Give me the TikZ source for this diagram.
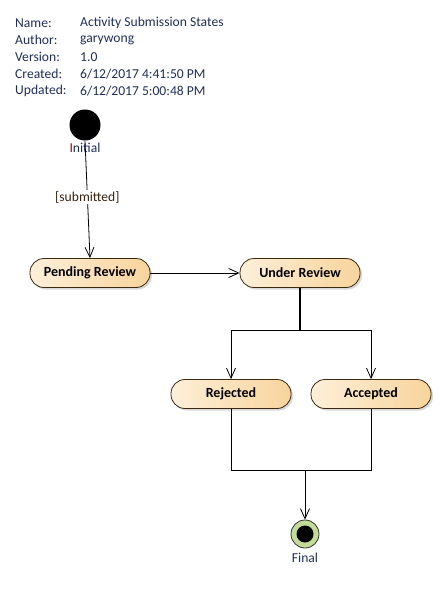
\documentclass[tikz,border=0pt]{standalone}
\usepackage{fontspec}
\setmainfont{Carlito}
\usetikzlibrary{arrows.meta,shadows}
\definecolor{hdr}{HTML}{1F2F5A}
\definecolor{lbltxt}{HTML}{3A2410}
\definecolor{stL}{HTML}{FDEFD9}
\definecolor{stR}{HTML}{F8D49C}
\definecolor{stB}{HTML}{3A2A10}
\definecolor{finG}{HTML}{C3DC98}
\begin{document}
\begin{tikzpicture}[x=1pt,y=-1pt,
  hdrtxt/.style={anchor=west,inner sep=0pt,text=hdr,font=\fontsize{13.6}{15}\selectfont},
  state/.style={draw=stB,line width=0.8pt,rounded corners=14pt,minimum width=120pt,minimum height=29pt,
    left color=stL,right color=stR,font=\fontsize{14}{16}\selectfont\bfseries,text=black,
    drop shadow={shadow xshift=2pt,shadow yshift=-2pt,fill=black!25,opacity=0.6}},
  conn/.style={draw=black,line width=0.8pt},
  tip/.style={-{Straight Barb[length=10pt,width=9pt,line width=0.8pt]}},
  lbl/.style={font=\fontsize{13.6}{15}\selectfont,inner sep=1pt}
]
\useasboundingbox (0,0) rectangle (441,604);
% header
\node[hdrtxt] (h1) at (15,23) {Name:};
\node[hdrtxt] (h2) at (15,40) {Author:};
\node[hdrtxt] (h3) at (15,57) {Version:};
\node[hdrtxt] (h4) at (15,74) {Created:};
\node[hdrtxt] (h5) at (15,91) {Updated:};
\node[hdrtxt] (v1) at (80,23) {Activity Submission States};
\node[hdrtxt] (v2) at (80,40) {garywong};
\node[hdrtxt] (v3) at (80,57) {1.0};
\node[hdrtxt] (v4) at (80,74) {6/12/2017 4:41:50 PM};
\node[hdrtxt] (v5) at (80,91) {6/12/2017 5:00:48 PM};
% initial
\node[circle,fill=black,minimum size=31pt,inner sep=0pt] (init) at (85,125) {};
\node[lbl,text=hdr] (initl) at (85,148) {{\color{red!70!black}I}nitial};
% states
\node[state] (pend) at (90,273) {Pending Review};
\node[state] (under) at (300,273) {Under Review};
\node[state] (rej) at (231,394) {Rejected};
\node[state] (acc) at (371,394) {Accepted};
% final
\node[circle,draw=black!80,line width=0.8pt,fill=finG,minimum size=28pt,inner sep=0pt] (fin) at (305,534) {};
\node[circle,fill=black,minimum size=17pt,inner sep=0pt] (finin) at (fin.center) {};
\node[lbl,text=hdr] (finl) at (305,558) {Final};
% junction coordinates
\coordinate (fork) at (300,330);
\coordinate (forkL) at (231,330);
\coordinate (forkR) at (371,330);
\coordinate (joinL) at (231,470);
\coordinate (joinR) at (371,470);
\coordinate (joinM) at (305,470);
% connectors
\draw[conn,tip] (init.south) -- node[lbl,fill=white,text=lbltxt,pos=0.48] (sub) {[submitted]} (pend.north);
\draw[conn,tip] (pend.east) -- (under.west);
\draw[draw=black,line width=2.4pt] (under.south) -- (fork);
\draw[conn] (forkL) -- (forkR);
\draw[conn,tip] (forkL) -- (rej.north);
\draw[conn,tip] (forkR) -- (acc.north);
\draw[conn] (rej.south) -- (joinL) -- (joinR) -- (acc.south);
\draw[conn,tip] (joinM) -- (fin.north);
\end{tikzpicture}
\end{document}
